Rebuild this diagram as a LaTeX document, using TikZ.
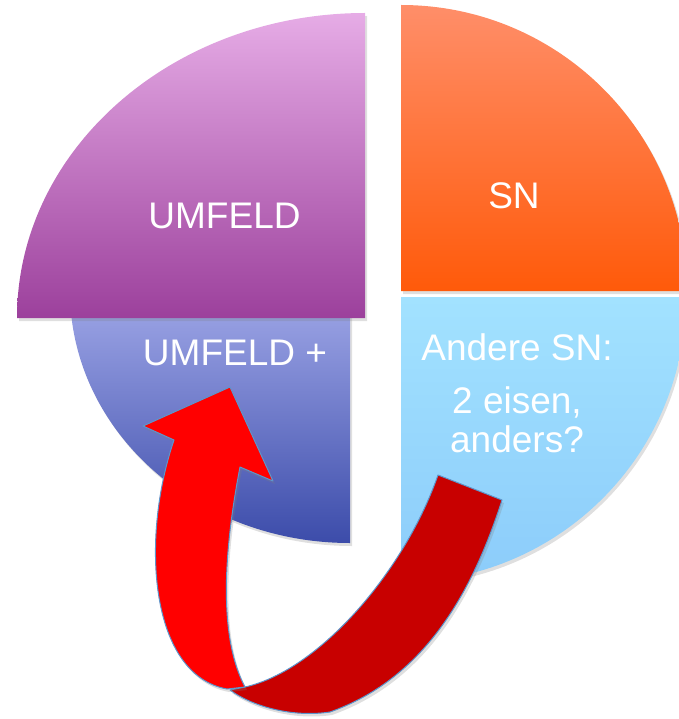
\documentclass[tikz,border=0pt]{standalone}
\usepackage{fontspec}
\setmainfont{Liberation Sans}
\usepackage{tikz}
\usetikzlibrary{shadows}
\definecolor{umtop}{RGB}{230,172,230}
\definecolor{umbot}{RGB}{156,64,156}
\definecolor{sntop}{RGB}{255,142,105}
\definecolor{snbot}{RGB}{255,90,10}
\definecolor{pltop}{RGB}{160,168,232}
\definecolor{plbot}{RGB}{60,76,170}
\definecolor{antop}{RGB}{162,226,255}
\definecolor{anbot}{RGB}{140,204,250}
\definecolor{arfront}{RGB}{255,0,0}
\definecolor{arback}{RGB}{200,0,0}
\definecolor{arline}{RGB}{92,150,205}
\tikzset{%
  piece/.style={drop shadow={opacity=0.25,shadow xshift=2pt,shadow yshift=-3pt}},
  lbl/.style={text=white,anchor=base,inner sep=0pt,font=\fontsize{37}{40}\selectfont},
}

\begin{document}
\begin{tikzpicture}[x=1pt,y=1pt]
\useasboundingbox (0,0) rectangle (678,-719);
% pie pieces
\path[piece, top color=pltop, bottom color=plbot] (350,-291) -- (70,-291) arc[start angle=180,end angle=270,x radius=280,y radius=252] -- cycle;
\path[piece, top color=umtop, bottom color=umbot] (365,-318) -- (17,-318) arc[start angle=180,end angle=90,x radius=348,y radius=305] -- cycle;
\path[piece, top color=antop, bottom color=anbot] (401,-297) -- (686,-297) arc[start angle=0,end angle=-90,radius=285] -- cycle;
\path[piece, top color=sntop, bottom color=snbot] (401,-291) -- (401,-5) arc[start angle=90,end angle=0,radius=286] -- cycle;
% labels
\node[lbl] (umfeld) at (224.5,-228) {UMFELD};
\node[lbl] (sn) at (514,-208) {SN};
\node[lbl] (umfeldplus) at (235,-365) {UMFELD +};
\node[lbl] (andere) at (517,-360) {Andere SN:};
\node[lbl] (eisen) at (517,-413) {2 eisen,};
\node[lbl] (anders) at (517,-452) {anders?};
% u-turn arrow, back side first
\filldraw[piece, color=arline, fill=arback, line width=1pt, line join=round] (438,-475) -- (502,-500) .. controls (470,-600) and (420,-680) .. (330,-712) .. controls (290,-718) and (250,-705) .. (230,-690) -- (245,-687) .. controls (320,-670) and (405,-570) .. (438,-475) -- cycle;
\filldraw[piece, color=arline, fill=arfront, line width=1pt, line join=round] (230,-387) -- (273,-481) -- (240,-467) .. controls (222,-560) and (220,-640) .. (245,-687) -- (227,-689) .. controls (150,-675) and (140,-540) .. (174,-440) -- (143,-426) -- cycle;
\end{tikzpicture}
\end{document}
